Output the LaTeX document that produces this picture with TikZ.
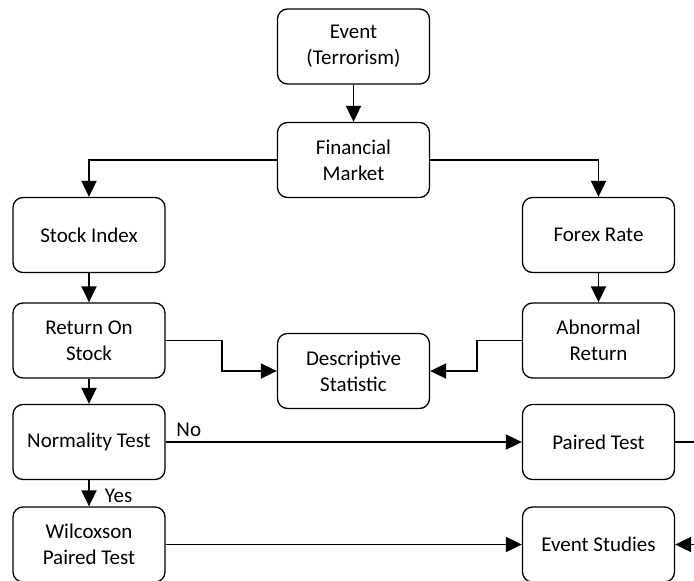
\documentclass[tikz,border=0pt]{standalone}
\usepackage{fontspec}
\setmainfont{Carlito}
\usetikzlibrary{arrows.meta}

\tikzset{
  blk/.style={draw, line width=1.3pt, rounded corners=10pt, minimum width=152pt,
    minimum height=75pt, align=center, inner sep=0pt,
    font=\fontsize{21}{26}\selectfont},
  flow/.style={line width=1.9pt, -{Triangle[length=16pt,width=15pt]}},
  lbl/.style={font=\fontsize{21}{26}\selectfont, inner sep=0pt}
}

\begin{document}
\begin{tikzpicture}[x=1pt,y=-1pt]

    % fix the page to the picture size
    \useasboundingbox (0,0) rectangle (694,581);

    % top column
    \node [blk] (event) at (353.5,46.5) {Event\\(Terrorism)};
    \node [blk] (market) at (353.5,160) {Financial\\Market};

    % left column
    \node [blk] (stock) at (89,235) {Stock Index};
    \node [blk] (ret) at (89,340.5) {Return On\\Stock};
    \node [blk] (norm) at (89,442) {Normality Test};
    \node [blk] (wilc) at (89,544.5) {Wilcoxson\\Paired Test};

    % right column
    \node [blk] (forex) at (598.5,235) {Forex Rate};
    \node [blk] (abret) at (598.5,340.5) {Abnormal\\Return};
    \node [blk] (paired) at (598.5,442) {Paired Test};
    \node [blk] (study) at (598.5,544.5) {Event Studies};

    % middle
    \node [blk] (desc) at (353.5,371) {Descriptive\\Statistic};

    % connectors
    \draw [flow] (event) -- (market);
    \draw [flow] (market.west) -| (stock.north);
    \draw [flow] (market.east) -| (forex.north);
    \draw [flow] (stock) -- (ret);
    \draw [flow] (forex) -- (abret);
    \draw [flow] (ret.east) -- ++(56,0) |- (desc.west);
    \draw [flow] (abret.west) -- ++(-45,0) |- (desc.east);
    \draw [flow] (ret) -- (norm);
    \draw [flow] (norm) -- node[lbl, right=15pt, yshift=-3pt] {Yes} (wilc);
    \draw [flow] (norm.east) -- node[lbl, pos=0.065, above=4pt] {No} (paired.west);
    \draw [flow] (wilc.east) -- (study.west);
    \draw [flow] (paired.east) -- ++(30,0) |- (study.east);

  \end{tikzpicture}
\end{document}
